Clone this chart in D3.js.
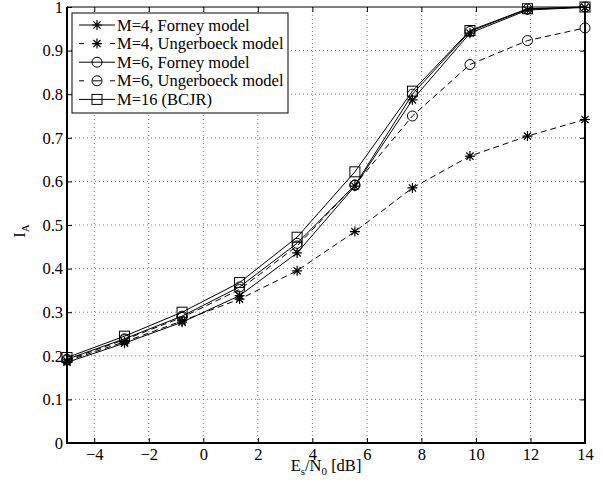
<html lang="en">
<head>
<meta charset="utf-8">
<title>I_A vs Es/N0</title>
<script src="https://d3js.org/d3.v7.min.js"></script>
<style>
  body { margin: 0; background: #fff; }
  svg text { font-family: "Liberation Serif", "DejaVu Serif", serif; fill: #000; }
</style>
</head>
<body>
<svg width="603" height="487"></svg>
<script>
// data
var snr = [-5, -2.89, -0.78, 1.33, 3.44, 5.56, 7.67, 9.78, 11.89, 14];
var m4Forney = [0.185, 0.229, 0.277, 0.338, 0.436, 0.589, 0.787, 0.940, 0.993, 0.999];
var m4Ungerboeck = [0.188, 0.232, 0.280, 0.330, 0.395, 0.485, 0.585, 0.658, 0.704, 0.742];
var m6Forney = [0.192, 0.239, 0.291, 0.358, 0.458, 0.591, 0.800, 0.944, 0.995, 1.0];
var m6Ungerboeck = [0.190, 0.237, 0.288, 0.352, 0.452, 0.592, 0.750, 0.868, 0.923, 0.952];
var m16Bcjr = [0.196, 0.245, 0.300, 0.368, 0.472, 0.622, 0.807, 0.946, 0.996, 1.0];
var xTicks = [-4, -2, 0, 2, 4, 6, 8, 10, 12, 14];
var yTicks = [0, 0.1, 0.2, 0.3, 0.4, 0.5, 0.6, 0.7, 0.8, 0.9, 1];

var series = [
  { name: "M=4, Forney model", values: m4Forney, dash: null, marker: "star" },
  { name: "M=4, Ungerboeck model", values: m4Ungerboeck, dash: "6,4", marker: "star" },
  { name: "M=6, Forney model", values: m6Forney, dash: null, marker: "circle" },
  { name: "M=6, Ungerboeck model", values: m6Ungerboeck, dash: "6,4", marker: "circle" },
  { name: "M=16 (BCJR)", values: m16Bcjr, dash: null, marker: "square" }
];

(function() {
  var FONT = "Liberation Serif, DejaVu Serif, serif";
  var FS = 16.5;
  var svg = d3.select("svg");
  var pl = 67, pr = 585, pt = 7, pb = 443;

  var x = d3.scaleLinear().domain([-5, 14]).range([pl, pr]);
  var y = d3.scaleLinear().domain([0, 1]).range([pb, pt]);

  // grid
  var grid = svg.append("g").attr("stroke", "#555").attr("stroke-width", 0.8).attr("stroke-dasharray", "1,3");
  grid.selectAll(".gx").data(xTicks.filter(function(d) { return d < 14; })).enter().append("line")
    .attr("x1", function(d) { return x(d); }).attr("x2", function(d) { return x(d); })
    .attr("y1", pt).attr("y2", pb);
  grid.selectAll(".gy").data(yTicks.filter(function(d) { return d > 0 && d < 1; })).enter().append("line")
    .attr("y1", function(d) { return y(d); }).attr("y2", function(d) { return y(d); })
    .attr("x1", pl).attr("x2", pr);

  // axes with inward ticks
  var xAxis = svg.append("g").attr("transform", "translate(0," + pb + ")")
    .call(d3.axisBottom(x).tickValues(xTicks).tickSizeInner(-5).tickSizeOuter(0)
      .tickFormat(function(d) { return d < 0 ? "\u2212" + Math.abs(d) : d; }));
  var xTop = svg.append("g").attr("transform", "translate(0," + pt + ")")
    .call(d3.axisTop(x).tickValues(xTicks).tickSizeInner(-5).tickSizeOuter(0).tickFormat(""));
  var yAxis = svg.append("g").attr("transform", "translate(" + pl + ",0)")
    .call(d3.axisLeft(y).tickValues(yTicks).tickSizeInner(-5).tickSizeOuter(0).tickFormat(d3.format("")));
  var yRight = svg.append("g").attr("transform", "translate(" + pr + ",0)")
    .call(d3.axisRight(y).tickValues(yTicks).tickSizeInner(-5).tickSizeOuter(0).tickFormat(""));

  [xAxis, xTop, yAxis, yRight].forEach(function(a) {
    a.attr("font-family", FONT).attr("font-size", FS);
    a.select(".domain").remove();
    a.selectAll("line").attr("stroke", "#000");
  });
  xAxis.selectAll("text").attr("y", 17).attr("dy", "0");
  yAxis.selectAll("text").attr("x", -4);

  // box
  function edge(x1, y1, x2, y2, w) {
    svg.append("line").attr("x1", x1).attr("y1", y1).attr("x2", x2).attr("y2", y2)
      .attr("stroke", "#000").attr("stroke-width", w);
  }
  edge(pl, pt, pr, pt, 1);
  edge(pl - 1, pb, pr + 1, pb, 2);
  edge(pl, pt, pl, pb, 2);
  edge(pr, pt, pr, pb, 2);

  function drawMarker(g, kind, cx, cy) {
    if (kind === "circle") {
      g.append("circle").attr("cx", cx).attr("cy", cy).attr("r", 5).attr("fill", "none").attr("stroke", "#000").attr("stroke-width", 1);
    } else if (kind === "square") {
      g.append("rect").attr("x", cx - 5).attr("y", cy - 5).attr("width", 10).attr("height", 10).attr("fill", "none").attr("stroke", "#000").attr("stroke-width", 1);
    } else {
      var r = 5, d = 3.6;
      var p = "M" + (cx - r) + "," + cy + "L" + (cx + r) + "," + cy +
              "M" + cx + "," + (cy - r) + "L" + cx + "," + (cy + r) +
              "M" + (cx - d) + "," + (cy - d) + "L" + (cx + d) + "," + (cy + d) +
              "M" + (cx - d) + "," + (cy + d) + "L" + (cx + d) + "," + (cy - d);
      g.append("path").attr("d", p).attr("stroke", "#000").attr("stroke-width", 1.2).attr("fill", "none");
    }
  }

  var line = d3.line().x(function(d, i) { return x(snr[i]); }).y(function(d) { return y(d); });
  var plot = svg.append("g");
  series.forEach(function(s) {
    plot.append("path").attr("d", line(s.values)).attr("fill", "none").attr("stroke", "#000")
      .attr("stroke-width", 1).attr("stroke-dasharray", s.dash);
    s.values.forEach(function(v, i) { drawMarker(plot, s.marker, x(snr[i]), y(v)); });
  });

  // legend
  var lg = svg.append("g");
  lg.append("rect").attr("x", 72).attr("y", 13).attr("width", 216).attr("height", 100)
    .attr("fill", "#fff").attr("stroke", "#000").attr("stroke-width", 1);
  series.forEach(function(s, i) {
    var ly = 25 + i * 18.6;
    lg.append("line").attr("x1", 79).attr("x2", 115).attr("y1", ly).attr("y2", ly)
      .attr("stroke", "#000").attr("stroke-width", 1).attr("stroke-dasharray", s.dash ? "5,8.5,9,8.5,5" : null);
    drawMarker(lg, s.marker, 97, ly);
    lg.append("text").attr("x", 117).attr("y", ly + 5.5)
      .attr("font-family", FONT).attr("font-size", FS).text(s.name);
  });

  // axis labels
  var xl = svg.append("text").attr("x", 326).attr("y", 471).attr("text-anchor", "middle")
    .attr("font-family", FONT).attr("font-size", FS);
  xl.append("tspan").text("E");
  xl.append("tspan").attr("dy", 4).attr("font-size", 11).text("s");
  xl.append("tspan").attr("dy", -4).text("/N");
  xl.append("tspan").attr("dy", 4).attr("font-size", 11).text("0");
  xl.append("tspan").attr("dy", -4).text(" [dB]");

  var yl = svg.append("text").attr("transform", "translate(25,231) rotate(-90)").attr("text-anchor", "middle")
    .attr("font-family", FONT).attr("font-size", FS);
  yl.append("tspan").text("I");
  yl.append("tspan").attr("dy", 4).attr("font-size", 11).text("A");
})();
</script>
</body>
</html>
